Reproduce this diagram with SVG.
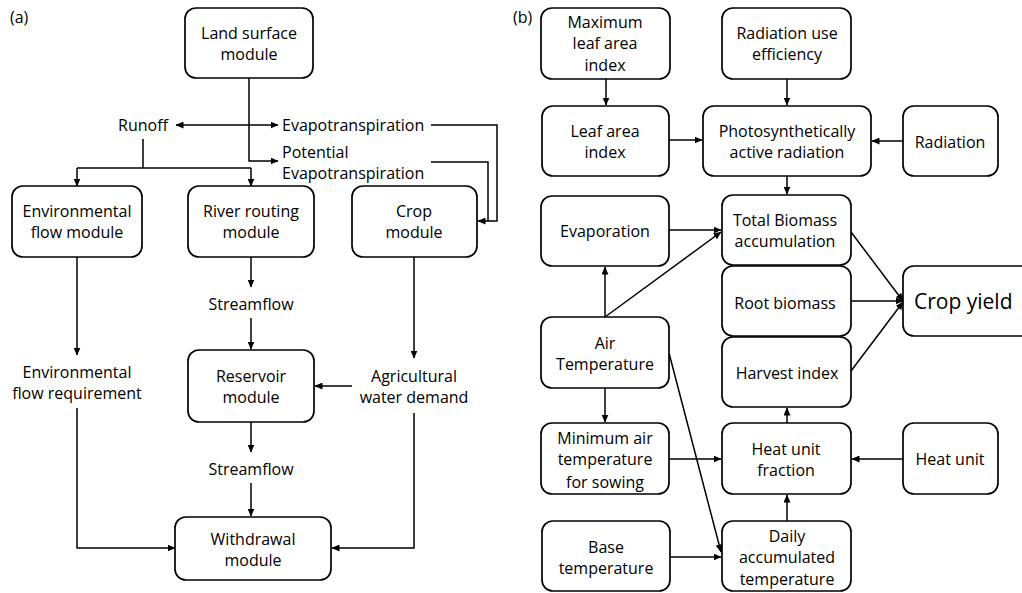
<svg xmlns="http://www.w3.org/2000/svg" width="1022" height="593" viewBox="0 0 1022 593">
<style>
.box{fill:#fff;stroke:#000;stroke-width:1.7}
.t{font-family:"Open Sans","Liberation Sans",sans-serif;font-size:16px;fill:#000;text-anchor:middle}
.ts{font-family:"Open Sans","Liberation Sans",sans-serif;font-size:16px;fill:#000}
.big{font-family:"Open Sans","Liberation Sans",sans-serif;font-size:21px;fill:#000}
.c{fill:none;stroke:#000;stroke-width:1.5}
.a{marker-end:url(#ah)}
</style>
<defs>
<marker id="ah" markerUnits="userSpaceOnUse" markerWidth="8" markerHeight="7" refX="7.5" refY="3.5" orient="auto">
<path d="M0,0 L8,3.5 L0,7 z" fill="#000"/>
</marker>
</defs>
<rect width="1022" height="593" fill="#fff"/>
<text class="ts" x="10" y="23">(a)</text>
<text class="ts" x="513" y="23">(b)</text>

<g id="connectors">
<path class="c a" d="M249,78 V161 H278"/>
<path class="c a" d="M249,125 H176"/>
<path class="c a" d="M249,125 H278"/>
<path class="c" d="M143,139 V168 M77,168 H251"/>
<path class="c a" d="M77,168 V186"/>
<path class="c a" d="M251,168 V186"/>
<path class="c a" d="M431,125 H497 V221 H478"/>
<path class="c" d="M431,162 H488 V221"/>
<path class="c a" d="M77,257 V355"/>
<path class="c a" d="M77,408 V548 H175"/>
<path class="c a" d="M251,257 V287"/>
<path class="c a" d="M251,318 V349"/>
<path class="c a" d="M414,257 V358"/>
<path class="c a" d="M352,386 H315"/>
<path class="c a" d="M414,413 V548 H332"/>
<path class="c a" d="M251,422 V452"/>
<path class="c a" d="M251,483 V516"/>

<path class="c a" d="M606,79 V105"/>
<path class="c a" d="M787,79 V105"/>
<path class="c a" d="M669,140 H702"/>
<path class="c a" d="M903,141 H872"/>
<path class="c a" d="M787,176 V194"/>
<path class="c a" d="M669,230 H721"/>
<path class="c a" d="M605,317 L721,232"/>
<path class="c a" d="M605,317 V267"/>
<path class="c a" d="M851,232 L903,301"/>
<path class="c a" d="M851,301 H903"/>
<path class="c a" d="M851,371 L903,302"/>
<path class="c a" d="M605,388 V422"/>
<path class="c a" d="M669,459 H721"/>
<path class="c a" d="M903,459 H852"/>
<path class="c a" d="M787,423 V408"/>
<path class="c a" d="M787,521 V495"/>
<path class="c a" d="M669,353 L721,552"/>
<path class="c a" d="M670,557 H721"/>
</g>

<g id="land"><rect class="box" x="185" y="8" width="128" height="70" rx="11"/><text class="t" x="249" y="39">Land surface</text><text class="t" x="249" y="60">module</text></g>
<g id="runoff"><text class="t" x="143" y="131">Runoff</text></g>
<g id="et"><text class="ts" x="282" y="131">Evapotranspiration</text></g>
<g id="pet"><text class="ts" x="282" y="158">Potential</text><text class="ts" x="282" y="179">Evapotranspiration</text></g>
<g id="envflow"><rect class="box" x="12" y="186" width="130" height="71" rx="11"/><text class="t" x="77" y="217">Environmental</text><text class="t" x="77" y="238">flow module</text></g>
<g id="river"><rect class="box" x="188" y="186" width="126" height="71" rx="11"/><text class="t" x="251" y="217">River routing</text><text class="t" x="251" y="238">module</text></g>
<g id="crop"><rect class="box" x="352" y="186" width="125" height="71" rx="11"/><text class="t" x="414" y="217">Crop</text><text class="t" x="414" y="238">module</text></g>
<g id="envreq"><text class="t" x="77" y="378">Environmental</text><text class="t" x="77" y="399">flow requirement</text></g>
<g id="sf1"><text class="t" x="251" y="310">Streamflow</text></g>
<g id="reservoir"><rect class="box" x="188" y="350" width="126" height="72" rx="11"/><text class="t" x="251" y="382">Reservoir</text><text class="t" x="251" y="403">module</text></g>
<g id="agri"><text class="t" x="414" y="382">Agricultural</text><text class="t" x="414" y="403">water demand</text></g>
<g id="sf2"><text class="t" x="251" y="475">Streamflow</text></g>
<g id="withdrawal"><rect class="box" x="175" y="517" width="156" height="63" rx="11"/><text class="t" x="253" y="545">Withdrawal</text><text class="t" x="253" y="566">module</text></g>

<g id="maxlai"><rect class="box" x="541" y="8" width="129" height="71" rx="11"/><text class="t" x="605" y="28">Maximum</text><text class="t" x="605" y="49">leaf area</text><text class="t" x="605" y="71">index</text></g>
<g id="rue"><rect class="box" x="722" y="8" width="129" height="71" rx="11"/><text class="t" x="787" y="39">Radiation use</text><text class="t" x="787" y="60">efficiency</text></g>
<g id="lai"><rect class="box" x="542" y="106" width="127" height="70" rx="11"/><text class="t" x="605" y="137">Leaf area</text><text class="t" x="605" y="158">index</text></g>
<g id="par"><rect class="box" x="703" y="106" width="168" height="70" rx="11"/><text class="t" x="787" y="137">Photosynthetically</text><text class="t" x="787" y="158">active radiation</text></g>
<g id="radiation"><rect class="box" x="903" y="106" width="95" height="70" rx="11"/><text class="t" x="950" y="148">Radiation</text></g>
<g id="evaporation"><rect class="box" x="541" y="196" width="128" height="70" rx="11"/><text class="t" x="605" y="237">Evaporation</text></g>
<g id="tba"><rect class="box" x="722" y="195" width="129" height="70" rx="11"/><text class="t" x="785" y="226">Total Biomass</text><text class="t" x="785" y="247">accumulation</text></g>
<g id="root"><rect class="box" x="722" y="266" width="129" height="70" rx="11"/><text class="t" x="785" y="309">Root biomass</text></g>
<g id="cropyield"><rect class="box" x="903" y="266" width="140" height="70" rx="11"/><text class="big" x="914" y="309">Crop yield</text></g>
<g id="harvest"><rect class="box" x="722" y="337" width="129" height="70" rx="11"/><text class="t" x="787" y="379">Harvest index</text></g>
<g id="airtemp"><rect class="box" x="541" y="317" width="128" height="71" rx="11"/><text class="t" x="605" y="349">Air</text><text class="t" x="605" y="370">Temperature</text></g>
<g id="minair"><rect class="box" x="541" y="423" width="128" height="71" rx="11"/><text class="t" x="605" y="444">Minimum air</text><text class="t" x="605" y="465">temperature</text><text class="t" x="605" y="488">for sowing</text></g>
<g id="huf"><rect class="box" x="722" y="423" width="129" height="71" rx="11"/><text class="t" x="786" y="455">Heat unit</text><text class="t" x="786" y="476">fraction</text></g>
<g id="heatunit"><rect class="box" x="903" y="423" width="95" height="71" rx="11"/><text class="t" x="950" y="465">Heat unit</text></g>
<g id="basetemp"><rect class="box" x="542" y="521" width="128" height="70" rx="11"/><text class="t" x="606" y="553">Base</text><text class="t" x="606" y="574">temperature</text></g>
<g id="daily"><rect class="box" x="722" y="521" width="129" height="70" rx="11"/><text class="t" x="787" y="542">Daily</text><text class="t" x="787" y="563">accumulated</text><text class="t" x="787" y="585">temperature</text></g>
</svg>
